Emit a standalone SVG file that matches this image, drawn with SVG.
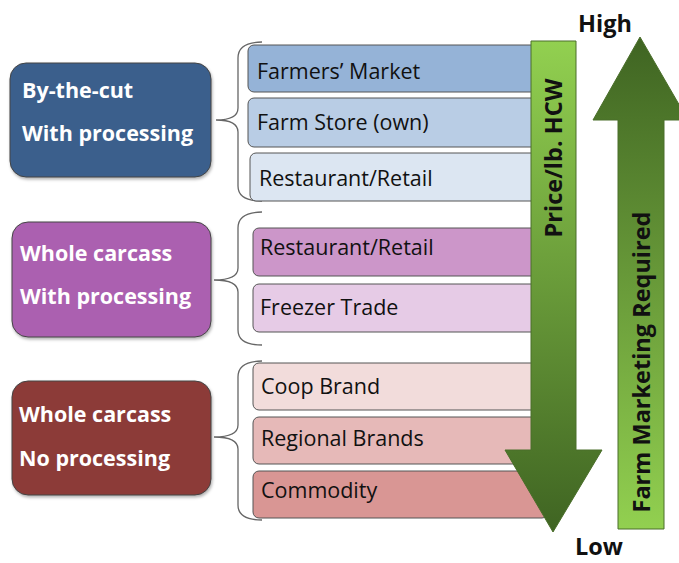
<svg xmlns="http://www.w3.org/2000/svg" width="679" height="563" viewBox="0 0 679 563">
<defs>
<linearGradient id="gDown" x1="0" y1="0" x2="0" y2="1">
<stop offset="0" stop-color="#92d050"/>
<stop offset="1" stop-color="#3f6422"/>
</linearGradient>
<linearGradient id="gUp" x1="0" y1="0" x2="0" y2="1">
<stop offset="0" stop-color="#3f6422"/>
<stop offset="1" stop-color="#92d050"/>
</linearGradient>
<filter id="sh" x="-10%" y="-10%" width="120%" height="130%">
<feDropShadow dx="1" dy="2" stdDeviation="1.5" flood-color="#000" flood-opacity="0.3"/>
</filter>
</defs>
<style>
.cat{stroke:#444;stroke-width:1;filter:url(#sh)}
.row{stroke:#555;stroke-width:1}
.ct{font-family:"Open Sans","Liberation Sans",sans-serif;font-weight:bold;font-size:21.5px;fill:#fff}
.rt{font-family:"Open Sans","Liberation Sans",sans-serif;font-size:21.5px;fill:#111}
.brace{fill:none;stroke:#666;stroke-width:1.3}
.lab{font-family:"Open Sans","Liberation Sans",sans-serif;font-weight:bold;font-size:23.5px;fill:#111}
</style>
<rect width="679" height="563" fill="#fff"/>

<g id="braces">
<path class="brace" d="M262,42 Q238,42 238,58 L238,108 Q238,120 216,120 Q238,120 238,132 L238,186 Q238,201 262,201"/>
<path class="brace" d="M262,212 Q238,212 238,228 L238,268 Q238,280 214,280 Q238,280 238,292 L238,330 Q238,345 262,345"/>
<path class="brace" d="M262,361 Q238,361 238,377 L238,425 Q238,437 214,437 Q238,437 238,449 L238,505 Q238,520 262,520"/>
</g>

<g id="cat1"><rect class="cat" x="10" y="63" width="201" height="114" rx="16" fill="#3a5e8c"/>
<text class="ct" x="22" y="98">By-the-cut</text><text class="ct" x="22" y="141">With processing</text></g>
<g id="cat2"><rect class="cat" x="12" y="222" width="199" height="115" rx="16" fill="#ab61b0"/>
<text class="ct" x="20" y="261">Whole carcass</text><text class="ct" x="20" y="304">With processing</text></g>
<g id="cat3"><rect class="cat" x="12" y="381" width="199" height="114" rx="16" fill="#8c3a38"/>
<text class="ct" x="19" y="422">Whole carcass</text><text class="ct" x="19" y="466">No processing</text></g>

<g id="r1"><rect class="row" x="248" y="45" width="300" height="47" rx="6" fill="#95b3d7"/><text class="rt" x="257" y="79">Farmers’ Market</text></g>
<g id="r2"><rect class="row" x="248" y="98" width="300" height="49" rx="6" fill="#b9cde5"/><text class="rt" x="257" y="130">Farm Store (own)</text></g>
<g id="r3"><rect class="row" x="250" y="153" width="298" height="48" rx="6" fill="#dce6f2"/><text class="rt" x="259" y="186">Restaurant/Retail</text></g>
<g id="r4"><rect class="row" x="253" y="228" width="295" height="48" rx="6" fill="#cc96c9"/><text class="rt" x="260" y="255">Restaurant/Retail</text></g>
<g id="r5"><rect class="row" x="253" y="284" width="295" height="48" rx="6" fill="#e6cbe6"/><text class="rt" x="260" y="315">Freezer Trade</text></g>
<g id="r6"><rect class="row" x="253" y="363" width="295" height="47" rx="6" fill="#f2dcdb"/><text class="rt" x="261" y="394">Coop Brand</text></g>
<g id="r7"><rect class="row" x="253" y="417" width="295" height="47" rx="6" fill="#e6b9b8"/><text class="rt" x="261" y="446">Regional Brands</text></g>
<g id="r8"><rect class="row" x="253" y="471" width="295" height="47" rx="6" fill="#d99694"/><text class="rt" x="261" y="498">Commodity</text></g>

<g id="priceArrow">
<path d="M531,41 L576,41 L576,450 L602,450 L553,532 L505,450 L531,450 Z" fill="url(#gDown)" stroke="#4a6e2a" stroke-width="1"/>
<text class="lab" transform="translate(562,158) rotate(-90)" text-anchor="middle">Price/lb. HCW</text>
</g>
<g id="marketingArrow">
<path d="M640,37 L688,120 L664,120 L664,529 L618,529 L618,120 L593,120 Z" fill="url(#gUp)" stroke="#4a6e2a" stroke-width="1"/>
<text class="lab" transform="translate(650,362) rotate(-90)" text-anchor="middle">Farm Marketing Required</text>
</g>
<text id="high" class="lab" x="605" y="32" text-anchor="middle" font-size="26">High</text>
<text id="low" class="lab" x="599" y="555" text-anchor="middle" font-size="25">Low</text>
</svg>
